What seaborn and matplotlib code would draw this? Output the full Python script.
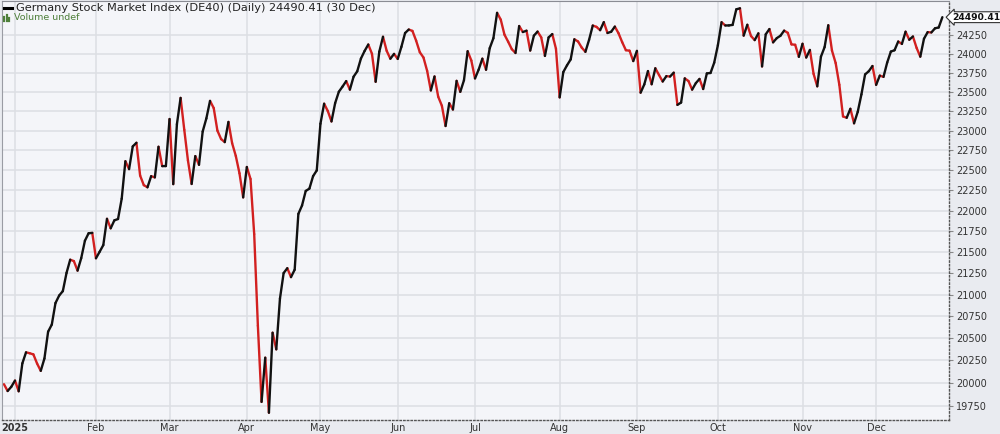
import numpy as np
import pandas as pd
import matplotlib
matplotlib.use("Agg")
import matplotlib.pyplot as plt
from matplotlib.lines import Line2D
from matplotlib.ticker import FixedLocator, NullLocator
import seaborn as sns

# daily closes (last days of 2024, then 2025 by month)
dec24 = [19984.32, 19909.14, 19956.00]
jan = [20024.66, 19906.08, 20216.19, 20340.57, 20329.94, 20317.10, 20214.79, 20132.85,
       20271.33, 20574.65, 20655.39, 20903.39, 20990.31, 21042.00, 21254.27, 21411.53,
       21394.93, 21282.18, 21430.58, 21637.53, 21727.20, 21732.05]
feb = [21428.24, 21505.59, 21585.93, 21902.42, 21787.00, 21883.18, 21899.66, 22148.03,
       22612.02, 22513.42, 22798.29, 22844.48, 22433.63, 22314.65, 22287.56, 22425.79,
       22410.27, 22794.11, 22550.89, 22551.43]
mar = [23147.02, 22326.81, 23081.03, 23419.48, 23008.94, 22620.95, 22328.77, 22676.41,
       22567.14, 22986.82, 23154.57, 23380.70, 23288.06, 22999.15, 22891.68, 22852.66,
       23109.79, 22839.03, 22678.74, 22461.52, 22163.49]
apr = [22539.98, 22390.84, 21717.39, 20641.72, 19789.62, 20280.26, 19670.88, 20562.84,
       20374.10, 20954.83, 21253.70, 21311.02, 21205.86, 21293.53, 21961.97, 22064.52,
       22242.45, 22271.67, 22425.83, 22496.98]
may = [23086.65, 23344.49, 23249.65, 23115.96, 23352.69, 23499.32, 23566.54, 23638.56,
       23527.05, 23695.59, 23767.43, 23934.88, 24036.11, 24122.40, 23999.17, 23629.58,
       24027.80, 24226.49, 24038.19, 23933.23, 23997.48]
jun = [23930.67, 24091.62, 24276.48, 24323.58, 24304.46, 24174.32, 24020.00, 23948.90,
       23771.45, 23516.23, 23699.12, 23434.65, 23317.81, 23057.38, 23350.55, 23269.02,
       23641.58, 23498.33, 23649.30, 24033.22, 23909.61]
jul = [23673.29, 23790.11, 23934.13, 23787.45, 24073.67, 24206.91, 24549.56, 24456.81,
       24255.31, 24160.64, 24060.29, 24009.38, 24370.93, 24289.51, 24307.80, 24041.92,
       24240.82, 24295.93, 24217.50, 23970.36, 24217.37, 24262.22, 24065.47]
aug = [23425.97, 23757.69, 23846.04, 23924.36, 24192.50, 24162.86, 24081.34, 24024.78,
       24185.59, 24377.50, 24359.30, 24314.62, 24423.07, 24276.97, 24293.34, 24363.09,
       24273.12, 24152.87, 24046.21, 24039.92, 23902.21]
sep = [24037.33, 23487.33, 23594.80, 23770.33, 23596.98, 23807.13, 23718.45, 23632.95,
       23703.65, 23698.15, 23748.86, 23329.24, 23359.18, 23674.53, 23639.41, 23527.07,
       23611.33, 23666.81, 23534.83, 23739.47, 23745.06, 23880.72]
octo = [24113.62, 24422.56, 24378.29, 24378.80, 24385.78, 24597.13, 24611.25, 24241.46,
        24387.93, 24236.00, 24181.37, 24272.19, 23830.99, 24258.80, 24330.03, 24151.13,
        24207.79, 24239.89, 24308.78, 24278.63, 24124.21, 24118.89, 23958.30]
nov = [24132.41, 23949.11, 24049.74, 23734.02, 23569.96, 23959.99, 24088.06, 24381.46,
       24041.62, 23876.55, 23590.52, 23180.53, 23162.92, 23278.85, 23091.87, 23239.18,
       23464.63, 23726.22, 23767.96, 23836.79]
dec = [23589.44, 23710.86, 23693.71, 23882.03, 24028.14, 24046.01, 24162.65, 24130.14,
       24294.61, 24186.49, 24229.91, 24076.87, 23960.59, 24199.50, 24288.40, 24283.97,
       24340.06, 24351.12, 24490.41]

month_labels = ["2025", "Feb", "Mar", "Apr", "May", "Jun", "Jul", "Aug", "Sep", "Oct", "Nov", "Dec"]
price_ticks = list(range(19750, 24251, 250))
closed = ["2025-01-01", "2025-04-18", "2025-04-21", "2025-05-01",
          "2025-12-24", "2025-12-25", "2025-12-26"]

closes = dec24 + jan + feb + mar + apr + may + jun + jul + aug + sep + octo + nov + dec
days = pd.bdate_range("2024-12-27", "2025-12-30")
days = days[~days.isin(pd.to_datetime(closed))]
df = pd.DataFrame({"date": days, "close": closes})
df["i"] = np.arange(len(df))

# one two-point piece per day, black when up, red when down
n = len(df)
c = df["close"].to_numpy()
up = np.where(c[1:] >= c[:-1], "up", "down")
seg = pd.DataFrame({
    "i": np.r_[df["i"].to_numpy()[:-1], df["i"].to_numpy()[1:]],
    "close": np.r_[c[:-1], c[1:]],
    "seg": np.r_[np.arange(n - 1), np.arange(n - 1)],
    "dir": np.r_[up, up],
})

# first trading day of each 2025 month
d25 = df[df["date"].dt.year == 2025]
month_pos = d25.groupby(d25["date"].dt.month)["i"].min().to_list()

fig = plt.figure(figsize=(10, 4.34), dpi=100, facecolor="#e9ebf0")
ax = fig.add_axes([0.002, 14 / 434, 0.947, 419 / 434])
ax.set_facecolor("#f4f5f9")

sns.lineplot(data=seg, x="i", y="close", units="seg", hue="dir", estimator=None,
             palette={"up": "#111111", "down": "#d22020"}, linewidth=1.7,
             legend=False, sort=False, solid_capstyle="round", ax=ax)

ax.set_yscale("log")
ax.set_ylim(19592, 24711)
ax.set_xlim(-0.53, 256.8)
ax.yaxis.set_major_locator(FixedLocator(price_ticks))
ax.yaxis.set_minor_locator(NullLocator())
ax.set_yticklabels([str(p) for p in price_ticks])
ax.yaxis.tick_right()
ax.tick_params(axis="y", labelsize=7, labelcolor="#333333", length=3, width=0.8,
               color="#888888", pad=2)
ax.set_xticks(month_pos)
ax.set_xticklabels(month_labels)
ax.tick_params(axis="x", labelsize=7, labelcolor="#333333", length=0, pad=2)
ax.get_xticklabels()[0].set_fontweight("bold")
ax.set_xlabel("")
ax.set_ylabel("")

ax.grid(True, color="#dcdee4", linewidth=1.1)
ax.set_axisbelow(True)
for side in ["right", "bottom"]:
    ax.spines[side].set_linestyle(":")
    ax.spines[side].set_color("#555555")
    ax.spines[side].set_linewidth(1.0)
ax.spines["left"].set_color("#9a9ca4")
ax.spines["top"].set_color("#8a8c94")

# header text inside the chart
fig.add_artist(Line2D([4 / 1000, 12 / 1000], [1 - 8 / 434, 1 - 8 / 434], color="black", lw=2.2))
for k, h in enumerate([4, 6, 3]):
    xk = (4 + 2.6 * k) / 1000
    fig.add_artist(Line2D([xk, xk], [1 - 21 / 434, 1 - (21 - h) / 434], color="#4e7f3a", lw=1.6))
fig.text(16 / 1000, 1 - 8 / 434, "Germany Stock Market Index (DE40) (Daily) 24490.41 (30 Dec)",
         fontsize=8.2, color="#222222", va="center", ha="left")
fig.text(14 / 1000, 1 - 18 / 434, "Volume undef", fontsize=6.8, color="#4e7f3a",
         va="center", ha="left")

# last price tag on the right axis
ax.annotate(f"{c[-1]:.2f}", xy=(1.0, c[-1]), xycoords=("axes fraction", "data"),
            xytext=(2, 0), textcoords="offset points", va="center", ha="left",
            fontsize=6.6, fontweight="bold", color="#111111",
            bbox=dict(boxstyle="larrow,pad=0.1", fc="white", ec="#333333", lw=0.8),
            annotation_clip=False)

fig.savefig("out.png", dpi=100, facecolor=fig.get_facecolor())
